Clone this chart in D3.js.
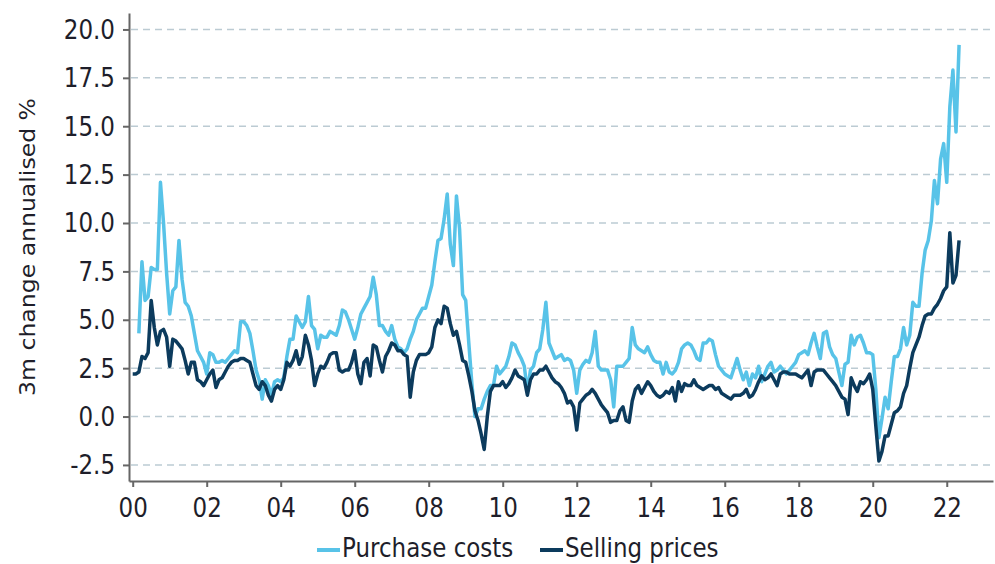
<!DOCTYPE html>
<html>
<head>
<meta charset="utf-8">
<script src="https://cdn.jsdelivr.net/npm/d3@7"></script>
<style>
  body { margin: 0; background: #fff; }
  text { font-family: "DejaVu Sans", Verdana, sans-serif; fill: #1e1e2a; }
</style>
</head>
<body>
<svg id="chart"></svg>
<script>
// monthly series, first value = Jan 2000
const startYear = 2000;
const yearTicks = [2000, 2002, 2004, 2006, 2008, 2010, 2012, 2014, 2016, 2018, 2020, 2022];
const valueTicks = [-2.5, 0, 2.5, 5, 7.5, 10, 12.5, 15, 17.5, 20];
const seriesNames = ["Purchase costs", "Selling prices"];

const purchaseCosts = [
  null, null, 4.3, 8.0, 6.0, 6.2, 7.7, 7.6, 7.6, 12.1, 10.0, 7.4,
  5.3, 6.5, 6.7, 9.1, 7.1, 5.9, 5.7, 5.2, 4.3, 3.4, 3.1, 2.8,
  2.2, 3.3, 3.2, 2.8, 2.8, 2.9, 2.8, 3.0, 3.2, 3.4, 3.3, 4.9,
  4.9, 4.7, 4.3, 3.4, 2.4, 1.9, 0.9, 1.9, 1.6, 1.1, 1.8, 1.9,
  1.8, 2.0, 3.1, 4.0, 4.0, 5.2, 4.9, 4.6, 4.9, 6.2, 4.7, 4.5,
  3.5, 4.2, 4.1, 4.1, 4.4, 4.3, 4.2, 4.7, 5.5, 5.4, 5.0, 4.5,
  4.0, 4.6, 5.3, 5.6, 5.9, 6.2, 7.2, 6.3, 4.7, 4.7, 4.4, 4.2,
  4.7, 4.0, 3.6, 3.5, 3.3, 3.5, 4.0, 4.4, 5.0, 5.3, 5.6, 5.6,
  6.2, 6.8, 8.0, 9.1, 9.2, 10.2, 11.5, 8.9, 7.8, 11.4, 9.7, 6.3,
  6.0, 3.8, 1.7, 0.0, 0.4, 0.4, 0.9, 1.3, 1.6, 1.6, 2.6, 2.2,
  2.4, 2.6, 3.1, 3.8, 3.7, 3.3, 3.0, 2.6, 1.3, 2.4, 2.6, 3.3,
  3.5, 4.5, 5.9, 3.8, 3.4, 3.0, 3.1, 3.2, 2.9, 3.0, 2.9, 2.4,
  1.2, 2.4, 2.7, 2.9, 2.8, 3.3, 4.4, 2.6, 2.4, 2.4, 2.4, 1.9,
  0.5, 2.6, 2.6, 2.6, 2.8, 3.0, 4.6, 3.7, 3.5, 3.4, 3.3, 3.6,
  3.2, 2.9, 2.8, 2.8, 2.2, 2.8, 2.3, 2.2, 2.4, 2.8, 3.5, 3.7,
  3.8, 3.7, 3.4, 3.0, 2.9, 3.8, 3.8, 4.0, 3.9, 3.2, 2.6, 2.4,
  2.2, 2.1, 2.0, 2.5, 3.0, 2.4, 1.9, 2.3, 1.6, 2.2, 2.0, 2.6,
  1.8, 2.2, 2.6, 2.8, 2.3, 2.4, 2.6, 2.4, 2.2, 2.4, 2.6, 2.8,
  3.2, 3.3, 3.4, 3.2, 3.8, 4.3, 3.6, 3.0, 4.3, 4.4, 3.6, 3.2,
  3.0, 2.3, 1.6, 2.7, 2.8, 4.2, 3.7, 4.1, 4.2, 3.8, 3.3, 3.3,
  3.2, 1.4, -1.1, -0.1, 1.0, 0.4, 1.8, 3.1, 3.1, 3.5, 4.6, 3.7,
  4.2, 5.9, 5.7, 5.7, 7.4, 8.6, 9.1, 10.1, 12.2, 11.0, 13.3, 14.1,
  12.1, 16.0, 17.9, 14.7, 19.2
];

const sellingPrices = [
  2.2, 2.2, 2.3, 3.1, 3.0, 3.3, 6.0, 4.6, 3.7, 4.4, 4.5, 4.1,
  2.6, 4.0, 3.9, 3.7, 3.5, 2.9, 2.2, 2.8, 2.8, 1.9, 1.8, 1.6,
  1.9, 2.2, 2.4, 1.5, 1.9, 2.0, 2.3, 2.6, 2.8, 2.9, 2.9, 3.0,
  3.0, 2.9, 2.8, 2.2, 1.6, 1.4, 1.8, 1.6, 1.1, 0.8, 1.4, 1.6,
  1.4, 1.9, 2.8, 2.6, 2.9, 3.4, 2.7, 3.1, 4.2, 3.7, 2.9, 1.6,
  2.2, 2.6, 2.5, 2.8, 3.2, 3.3, 3.3, 2.4, 2.3, 2.4, 2.4, 2.8,
  3.4, 2.2, 1.7, 2.8, 3.0, 2.1, 3.7, 3.6, 2.9, 2.3, 3.1, 3.4,
  3.8, 3.7, 3.4, 3.4, 3.2, 3.1, 1.0, 2.3, 2.9, 3.2, 3.2, 3.2,
  3.3, 3.6, 4.6, 5.0, 4.8, 5.7, 5.6, 4.8, 4.2, 4.4, 3.7, 2.9,
  2.8, 2.1, 1.3, 0.3, -0.2, -0.9, -1.7, 0.0, 1.3, 1.6, 1.6, 1.6,
  1.8, 1.5, 1.7, 2.0, 2.4, 2.1, 2.0, 1.9, 1.1, 1.9, 2.2, 2.2,
  2.4, 2.4, 2.6, 2.3, 2.0, 1.8, 1.7, 1.5, 1.2, 0.7, 0.8, 0.5,
  -0.7, 0.7, 0.9, 1.1, 1.2, 1.4, 1.2, 0.9, 0.6, 0.4, 0.2, -0.3,
  -0.2, -0.2, 0.3, 0.5, -0.2, -0.3, 0.8, 1.4, 1.6, 1.2, 1.5, 1.8,
  1.6, 1.3, 1.1, 1.0, 1.1, 1.3, 1.2, 1.5, 0.8, 1.8, 1.3, 1.7,
  1.6, 1.6, 1.9, 1.6, 1.5, 1.4, 1.5, 1.6, 1.6, 1.4, 1.5, 1.2,
  1.1, 1.0, 0.9, 1.1, 1.1, 1.1, 1.2, 1.4, 1.0, 1.1, 1.4, 1.8,
  2.1, 1.9, 2.0, 2.2, 1.9, 1.6, 2.2, 2.3, 2.3, 2.2, 2.2, 2.2,
  2.1, 2.0, 2.2, 2.4, 1.6, 2.3, 2.4, 2.4, 2.4, 2.2, 2.0, 1.8,
  1.6, 1.3, 1.0, 0.9, 0.1, 2.0, 1.6, 1.3, 1.8, 1.7, 1.9, 2.2,
  1.4, -0.5, -2.3, -1.8, -1.0, -1.0, -0.4, 0.2, 0.3, 0.5, 1.2, 1.6,
  2.5, 3.3, 3.7, 4.1, 4.7, 5.2, 5.3, 5.3, 5.6, 5.8, 6.1, 6.5,
  6.7, 9.5, 6.9, 7.3, 9.1
];

const lightBlue = "#58c3e8", darkBlue = "#0c3b5d";

const svgWidth = 995, svgHeight = 564;
const plotLeft = 129, plotRight = 993, plotTop = 13, plotBottom = 481;
const textStretch = 1.15; // glyphs in the original look slightly tall

const svg = d3.select("#chart")
    .attr("width", svgWidth)
    .attr("height", svgHeight);

const xScale = d3.scaleLinear().domain([1999.9, 2023.25]).range([plotLeft, plotRight]);
const yScale = d3.scaleLinear().domain([-3.33, 20.85]).range([plotBottom, plotTop]);

// dashed gridlines
svg.append("g")
   .selectAll("line")
   .data(valueTicks)
   .enter()
   .append("line")
   .attr("x1", plotLeft + 2)
   .attr("x2", plotRight)
   .attr("y1", d => yScale(d))
   .attr("y2", d => yScale(d))
   .attr("stroke", "#bccbd3")
   .attr("stroke-width", 1.5)
   .attr("stroke-dasharray", "7,5");

// lines
const line = d3.line()
    .defined(d => d != null)
    .x((d, i) => xScale(startYear + i / 12))
    .y(d => yScale(d));

svg.append("path")
   .datum(purchaseCosts)
   .attr("d", line)
   .attr("fill", "none")
   .attr("stroke", lightBlue)
   .attr("stroke-width", 3.5)
   .attr("stroke-linejoin", "round");

svg.append("path")
   .datum(sellingPrices)
   .attr("d", line)
   .attr("fill", "none")
   .attr("stroke", darkBlue)
   .attr("stroke-width", 3.5)
   .attr("stroke-linejoin", "round");

// Y axis
const yAxisGroup = svg.append("g")
    .attr("transform", `translate(${plotLeft}, 0)`)
    .call(d3.axisLeft(yScale)
        .tickValues(valueTicks)
        .tickSize(6)
        .tickSizeOuter(0)
        .tickFormat(d => d.toFixed(1)));

yAxisGroup.selectAll("text")
    .attr("x", -14)
    .attr("y", 7.8)
    .attr("dy", 0)
    .attr("transform", `scale(1, ${textStretch})`)
    .style("font-size", "23px");

// X axis
const xAxisGroup = svg.append("g")
    .attr("transform", `translate(0, ${plotBottom})`)
    .call(d3.axisBottom(xScale)
        .tickValues(yearTicks)
        .tickSize(6)
        .tickSizeOuter(0)
        .tickFormat(d => String(d).slice(2)));

xAxisGroup.selectAll("text")
    .attr("y", 36 / textStretch)
    .attr("dy", 0)
    .attr("transform", `scale(1, ${textStretch})`)
    .style("font-size", "23px");

svg.selectAll(".domain, .tick line")
   .attr("stroke", "#666")
   .attr("stroke-width", 2);

// Y axis title
svg.append("text")
   .attr("transform", `translate(28, 247) rotate(-90) scale(${textStretch}, 1)`)
   .attr("text-anchor", "middle")
   .attr("dy", "0.35em")
   .style("font-size", "20.5px")
   .text("3m change annualised %");

// legend (kept just inside the bottom edge)
const legendItems = [
    { name: seriesNames[0], color: lightBlue, x: 317 },
    { name: seriesNames[1], color: darkBlue, x: 540 }
];

const legend = svg.append("g");
legendItems.forEach(item => {
    legend.append("line")
          .attr("x1", item.x)
          .attr("x2", item.x + 23)
          .attr("y1", 550)
          .attr("y2", 550)
          .attr("stroke", item.color)
          .attr("stroke-width", 4);
    legend.append("text")
          .attr("transform", `translate(${item.x + 25}, 557) scale(1, ${textStretch})`)
          .style("font-size", "23px")
          .text(item.name);
});
</script>
</body>
</html>
